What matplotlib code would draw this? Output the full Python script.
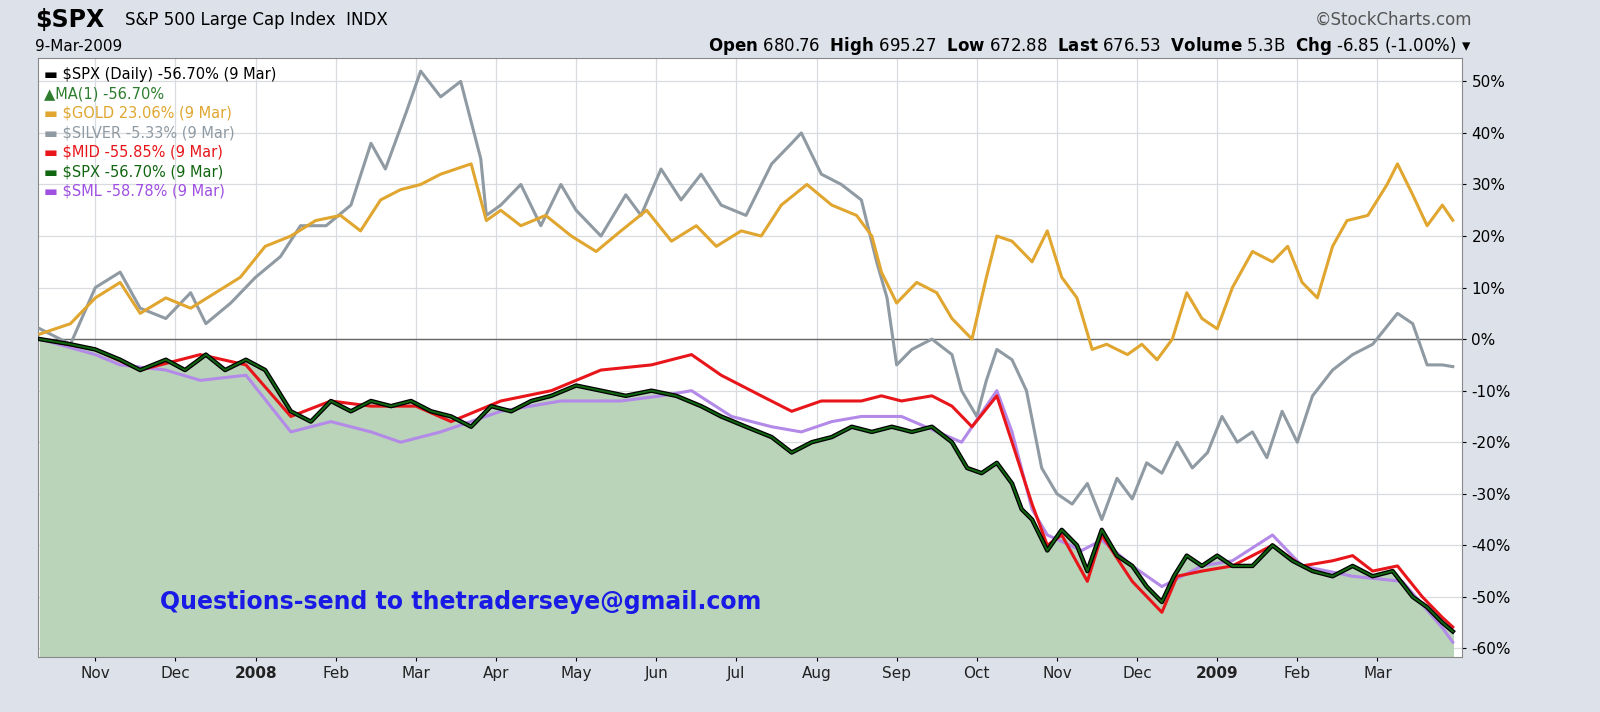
import numpy as np
import matplotlib.pyplot as plt
from matplotlib.ticker import FixedLocator, FuncFormatter

# x = months from Oct-2007 (Nov-2007 = 1, Jan-2009 = 15), y = % change
gold_x = [.31, .69, 1.0, 1.31, 1.56, 1.88, 2.19, 2.5, 2.81, 3.12, 3.44, 3.75, 4.06, 4.31, 4.56, 4.81, 5.06, 5.31,
          5.69, 5.88, 6.06, 6.31, 6.62, 6.94, 7.25, 7.56, 7.88, 8.19, 8.5, 8.75, 9.06, 9.31, 9.56, 9.88, 10.19,
          10.5, 10.69, 10.81, 11.0, 11.25, 11.5, 11.69, 11.94, 12.12, 12.25, 12.44, 12.69, 12.88, 13.06, 13.25,
          13.44, 13.62, 13.88, 14.06, 14.25, 14.44, 14.62, 14.81, 15.0, 15.19, 15.44, 15.69, 15.88, 16.06, 16.25,
          16.44, 16.62, 16.88, 17.12, 17.25, 17.44, 17.62, 17.81, 17.94]
gold_y = [1, 3, 8, 11, 5, 8, 6, 9, 12, 18, 20, 23, 24, 21, 27, 29, 30, 32,
          34, 23, 25, 22, 24, 20, 17, 21, 25, 19, 22, 18, 21, 20, 26, 30, 26,
          24, 20, 13, 7, 11, 9, 4, 0, 12, 20, 19, 15, 21, 12, 8,
          -2, -1, -3, -1, -4, 0, 9, 4, 2, 10, 17, 15, 18, 11, 8,
          18, 23, 24, 30, 34, 28, 22, 26, 23.06]

silver_x = [.31, .69, 1.0, 1.31, 1.56, 1.88, 2.19, 2.38, 2.69, 3.0, 3.31, 3.56, 3.88, 4.19, 4.44, 4.62, 4.88, 5.06,
            5.31, 5.56, 5.81, 5.88, 6.06, 6.31, 6.56, 6.81, 7.0, 7.31, 7.62, 7.81, 8.06, 8.31, 8.56, 8.81, 9.12,
            9.44, 9.69, 9.81, 10.06, 10.31, 10.56, 10.75, 10.88, 11.0, 11.19, 11.44, 11.69, 11.81, 12.0, 12.12,
            12.25, 12.44, 12.62, 12.81, 13.0, 13.19, 13.38, 13.56, 13.75, 13.94, 14.12, 14.31, 14.5, 14.69, 14.88,
            15.06, 15.25, 15.44, 15.62, 15.81, 16.0, 16.19, 16.44, 16.69, 16.94, 17.25, 17.44, 17.62, 17.81, 17.94]
silver_y = [2, -1, 10, 13, 6, 4, 9, 3, 7, 12, 16, 22, 22, 26, 38, 33, 44, 52,
            47, 50, 35, 24, 26, 30, 22, 30, 25, 20, 28, 24, 33, 27, 32, 26, 24,
            34, 38, 40, 32, 30, 27, 15, 8, -5, -2, 0, -3, -10, -15, -8,
            -2, -4, -10, -25, -30, -32, -28, -35, -27, -31, -24, -26, -20, -25, -22,
            -15, -20, -18, -23, -14, -20, -11, -6, -3, -1, 5, 3, -5, -5, -5.33]

spx_x = [.31, .69, 1.0, 1.31, 1.56, 1.88, 2.12, 2.38, 2.62, 2.88, 3.12, 3.44, 3.69, 3.94, 4.19, 4.44, 4.69, 4.94,
         5.19, 5.44, 5.69, 5.94, 6.19, 6.44, 6.69, 7.0, 7.31, 7.62, 7.94, 8.25, 8.56, 8.81, 9.12, 9.44, 9.69,
         9.94, 10.19, 10.44, 10.69, 10.94, 11.19, 11.44, 11.69, 11.88, 12.06, 12.25, 12.44, 12.56, 12.69, 12.88,
         13.06, 13.25, 13.38, 13.56, 13.75, 13.94, 14.12, 14.31, 14.46, 14.62, 14.81, 15.0, 15.19, 15.44, 15.69,
         15.94, 16.19, 16.44, 16.69, 16.94, 17.19, 17.44, 17.62, 17.81, 17.94]
spx_y = [0, -1, -2, -4, -6, -4, -6, -3, -6, -4, -6, -14, -16, -12, -14, -12, -13, -12,
         -14, -15, -17, -13, -14, -12, -11, -9, -10, -11, -10, -11, -13, -15, -17, -19, -22,
         -20, -19, -17, -18, -17, -18, -17, -20, -25, -26, -24, -28, -33, -35, -41,
         -37, -40, -45, -37, -42, -44, -48, -51, -46, -42, -44, -42, -44, -44, -40,
         -43, -45, -46, -44, -46, -45, -50, -52, -55, -56.70]

mid_x = [.31, 1.0, 1.56, 2.31, 2.88, 3.44, 3.94, 4.44, 5.0, 5.44, 6.06, 6.69, 7.31, 7.94, 8.44, 8.81, 9.31, 9.69,
         10.06, 10.56, 10.81, 11.06, 11.44, 11.69, 11.94, 12.25, 12.44, 12.69, 12.88, 13.06, 13.38, 13.56, 13.94,
         14.31, 14.5, 14.81, 15.19, 15.69, 16.06, 16.44, 16.69, 16.94, 17.25, 17.56, 17.81, 17.94]
mid_y = [0, -2, -6, -3, -5, -15, -12, -13, -13, -16, -12, -10, -6, -5, -3, -7, -11, -14,
         -12, -12, -11, -12, -11, -13, -17, -11, -20, -32, -40, -38, -47, -38, -47,
         -53, -46, -45, -44, -40, -44, -43, -42, -45, -44, -50, -54, -55.85]

sml_x = [.31, 1.0, 1.31, 1.88, 2.31, 2.88, 3.44, 3.94, 4.44, 4.81, 5.31, 6.06, 6.81, 7.56, 8.06, 8.44, 8.94, 9.44,
         9.81, 10.19, 10.56, 11.06, 11.81, 12.25, 12.44, 12.69, 12.88, 13.31, 13.56, 13.94, 14.31, 14.81, 15.19,
         15.69, 16.06, 16.69, 17.31, 17.81, 17.94]
sml_y = [0, -3, -5, -6, -8, -7, -18, -16, -18, -20, -18, -14, -12, -12, -11, -10, -15, -17,
         -18, -16, -15, -15, -20, -10, -18, -33, -38, -41, -39, -44, -48, -44, -43,
         -38, -44, -46, -47, -56, -58.78]

month_pos = list(range(1, 18))
month_labels = ["Nov", "Dec", "2008", "Feb", "Mar", "Apr", "May", "Jun", "Jul", "Aug",
                "Sep", "Oct", "Nov", "Dec", "2009", "Feb", "Mar"]
pct_ticks = [-60, -50, -40, -30, -20, -10, 0, 10, 20, 30, 40, 50]

legend_items = [("$SPX (Daily) -56.70% (9 Mar)", "black"),
                ("MA(1) -56.70%", "#2e7d2e"),
                ("$GOLD 23.06% (9 Mar)", "#e0a630"),
                ("$SILVER -5.33% (9 Mar)", "#8f9aa3"),
                ("$MID -55.85% (9 Mar)", "#e8161b"),
                ("$SPX -56.70% (9 Mar)", "#116611"),
                ("$SML -58.78% (9 Mar)", "#a050e0")]

fig = plt.figure(figsize=(16, 7.12), dpi=100, facecolor="#dde1ea")
ax = fig.add_axes([0.024, 0.077, 0.89, 0.842])
ax.set_xlim(0.29, 18.06)
ax.set_ylim(-61.7, 54.6)

ax.fill_between(spx_x, spx_y, -70, color="#b9d4b9", zorder=1)
ax.plot(silver_x, silver_y, color="#8f9aa3", lw=2.2, zorder=3)
ax.plot(gold_x, gold_y, color="#e0a630", lw=2.2, zorder=4)
ax.plot(sml_x, sml_y, color="#b38ae8", lw=2.2, zorder=5)
ax.plot(mid_x, mid_y, color="#e8161b", lw=2.2, zorder=6)
ax.plot(spx_x, spx_y, color="black", lw=3.2, zorder=7)
ax.plot(spx_x, spx_y, color="#116611", lw=1.4, zorder=8)
ax.axhline(0, color="#666666", lw=1, zorder=2)

ax.xaxis.set_major_locator(FixedLocator(month_pos))
ax.set_xticklabels(month_labels, fontsize=11, color="#222222")
for lbl in ax.get_xticklabels():
    if lbl.get_text() in ("2008", "2009"):
        lbl.set_fontweight("bold")
ax.yaxis.tick_right()
ax.yaxis.set_major_locator(FixedLocator(pct_ticks))
ax.yaxis.set_major_formatter(FuncFormatter(lambda v, p: f"{v:.0f}%"))
ax.tick_params(axis="y", labelsize=11, length=3)
ax.tick_params(axis="x", length=3)
ax.grid(True, color="#d8dce0", lw=0.9, zorder=0)
ax.set_axisbelow(True)
for s in ax.spines.values():
    s.set_color("#888888")

for i, (txt, col) in enumerate(legend_items):
    ax.text(0.004, 0.985 - i * 0.0325, "▬ " + txt if i != 1 else "▲" + txt,
            transform=ax.transAxes, fontsize=10.5, color=col, va="top", zorder=10)

ax.text(1.81, -51, "Questions-send to thetraderseye@gmail.com", color="#1a1ae6",
        fontsize=17, fontweight="bold", va="center", zorder=10)

fig.text(0.022, 0.972, "$SPX", fontsize=17, fontweight="bold", va="center")
fig.text(0.078, 0.972, "S&P 500 Large Cap Index  INDX", fontsize=12, va="center")
fig.text(0.022, 0.935, "9-Mar-2009", fontsize=11, va="center")
fig.text(0.92, 0.972, "©StockCharts.com", fontsize=12, color="#555555", ha="right", va="center")
hdr = [("Open", "680.76"), ("High", "695.27"), ("Low", "672.88"), ("Last", "676.53"),
       ("Volume", "5.3B"), ("Chg", "-6.85 (-1.00%)")]
fig.text(0.92, 0.935, "  ".join(f"$\\bf{{{k}}}$ {v}" for k, v in hdr) + " ▾",
         fontsize=12, ha="right", va="center")

fig.savefig("out.png", dpi=100, facecolor=fig.get_facecolor())
